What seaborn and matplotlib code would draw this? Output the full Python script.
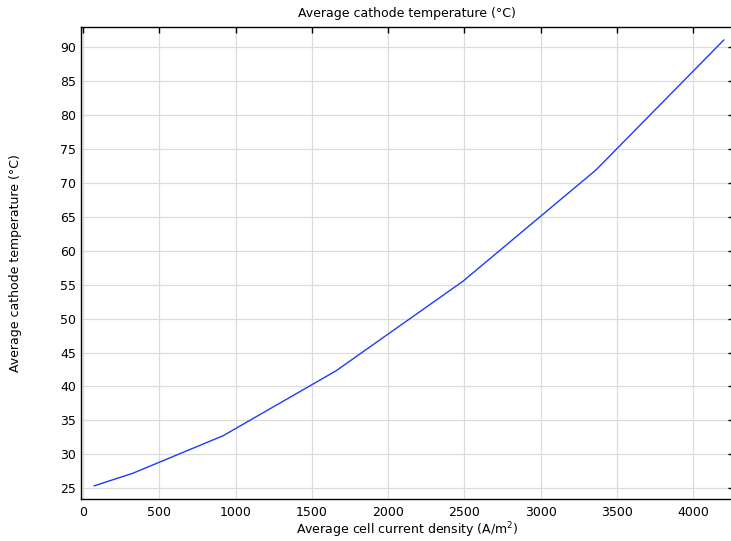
import matplotlib
matplotlib.use("Agg")
import matplotlib.pyplot as plt
import seaborn as sns
import pandas as pd

current_density = [72, 325, 919, 1658, 2490, 3362, 4200]
cathode_temp = [25.35, 27.2, 32.75, 42.3, 55.5, 71.9, 91.05]
x_ticks = [0, 500, 1000, 1500, 2000, 2500, 3000, 3500, 4000]
y_ticks = [25, 30, 35, 40, 45, 50, 55, 60, 65, 70, 75, 80, 85, 90]

sns.set_theme(style="white")
plt.rcParams['font.family'] = ['DejaVu Sans']

df = pd.DataFrame({"x": current_density, "y": cathode_temp})
fig = plt.figure(figsize=(7.31, 5.41), dpi=100)
left_px, right_px, top_px, bot_px = 81, 733.5, 27, 499
ax = fig.add_axes([left_px/731, 1-bot_px/541, (right_px-left_px)/731, (bot_px-top_px)/541])
sns.lineplot(data=df, x="x", y="y", ax=ax, color="#1a3cff", linewidth=1.0, sort=False)
px_per = 76.3 / 500
ax.set_xlim(-(83-left_px)/px_per, (right_px-83)/px_per)
ax.set_ylim(23.42, 92.95)
ax.set_xticks(x_ticks)
ax.set_yticks(y_ticks)
ax.grid(True, color="#dcdcdc", linewidth=0.9)
ax.tick_params(axis="both", which="major", direction="in", length=4, width=1,
               labelsize=9, colors="black", top=True, right=True, labeltop=False, labelright=False)
ax.tick_params(axis="x", pad=5)
for s in ["left", "bottom", "top"]:
    ax.spines[s].set_color("black")
    ax.spines[s].set_linewidth(1.0)
ax.spines["right"].set_visible(False)
ax.set_xlabel("Average cell current density (A/m$^2$)", fontsize=9, color="black", labelpad=1)
ax.set_ylabel("Average cathode temperature (°C)", fontsize=9, color="black")
ax.yaxis.set_label_coords((22-left_px)/(right_px-left_px), 0.5)
ax.set_title("Average cathode temperature (°C)", fontsize=9, color="black", pad=7.5)
fig.savefig("out.png", dpi=100)
